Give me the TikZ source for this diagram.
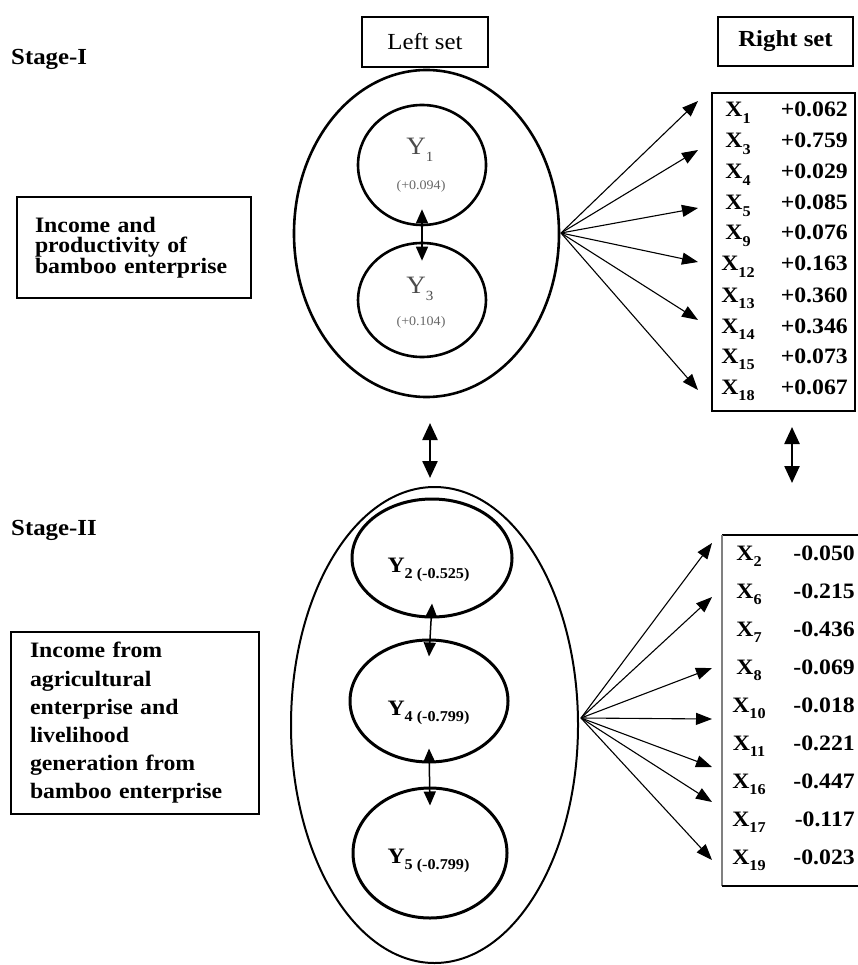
\documentclass[tikz,border=0pt]{standalone}
\usepackage{fontspec}
\setmainfont{Liberation Serif}[FakeStretch=1.08]
\usetikzlibrary{arrows.meta,shapes.geometric}
\definecolor{softgray}{gray}{0.3}
\definecolor{palegray}{gray}{0.4}
\newcommand{\lowsub}[2][15]{\raisebox{-0.28em}{\fontsize{#1}{#1}\selectfont #2}}
\newcommand{\headfont}{\fontsize{23}{24}\selectfont\bfseries}
\newcommand{\cellfont}{\fontsize{22}{24}\selectfont\bfseries}
\begin{document}
\begin{tikzpicture}[x=1pt,y=-1pt,
  ring/.style={draw,ellipse,inner sep=0pt},
  txt/.style={inner sep=0pt},
  titlebox/.style={draw,line width=2.6pt,inner sep=0pt,font=\fontsize{23}{24}\selectfont},
  descbox/.style={draw,line width=2pt,inner ysep=0pt,align=left},
  tablebox/.style={draw,line width=1.5pt,inner sep=0pt},
  fan/.style={line width=1.1pt,-{Triangle[length=16pt,width=12pt]}},
  dbl/.style={line width=1.5pt,{Triangle[length=14pt,width=12pt]}-{Triangle[length=14pt,width=12pt]}},
  bigdbl/.style={line width=2.4pt,{Triangle[length=17pt,width=15pt]}-{Triangle[length=17pt,width=15pt]}},
  xlab/.style={txt,anchor=base,font=\cellfont},
  xval/.style={txt,anchor=base east,font=\cellfont}
]
\useasboundingbox (0,0) rectangle (858,965);

% ---------- headings ----------
\node[txt,anchor=base west,font=\headfont] (stageI) at (11,65) {Stage-I};
\node[txt,anchor=base west,font=\headfont] (stageII) at (11,535) {Stage-II};
\node[titlebox,minimum width=126pt,minimum height=50pt] (leftset) at (425,42) {Left set};
\node[titlebox,minimum width=135pt,minimum height=49pt,font=\fontsize{23}{24}\selectfont\bfseries] (rightset) at (785.5,41.5) {Right set};

% ---------- descriptive boxes ----------
\node[descbox,minimum width=234pt,minimum height=101pt,inner xsep=18pt,text width=198pt,
      font=\fontsize{22}{20.5}\selectfont\bfseries] (descI) at (134,247.5)
  {Income and\\productivity of\\bamboo enterprise};
\node[descbox,minimum width=248pt,minimum height=182pt,inner xsep=19pt,text width=210pt,
      font=\fontsize{22}{28.2}\selectfont\bfseries] (descII) at (135,723)
  {Income from\\agricultural\\enterprise and\\livelihood\\generation from\\bamboo enterprise};

% ---------- stage I: left set ----------
\node[ring,line width=2.6pt,minimum width=265pt,minimum height=327pt] (setI) at (426.5,233.5) {};
\node[ring,line width=2.6pt,minimum width=128pt,minimum height=120pt] (y1) at (422,165) {};
\node[ring,line width=2.6pt,minimum width=128pt,minimum height=114pt] (y3) at (422,300) {};
\node[txt,anchor=base,text=softgray,font=\fontsize{25}{25}\selectfont] (y1name) at (420,155) {Y\lowsub[14]{1}};
\node[txt,anchor=base,text=palegray,font=\fontsize{13}{13}\selectfont] (y1val) at (421,190) {(+0.094)};
\node[txt,anchor=base,text=softgray,font=\fontsize{25}{25}\selectfont] (y3name) at (420,293) {Y\lowsub[14]{3}};
\node[txt,anchor=base,text=palegray,font=\fontsize{13}{13}\selectfont] (y3val) at (421,325) {(+0.104)};
\draw[dbl] ([yshift=17pt]y1.south) -- ([yshift=-19pt]y3.north);

% ---------- stage I: right set ----------
\node[tablebox,minimum width=143pt,minimum height=318pt] (tabI) at (783.5,252) {};
\foreach \name/\val/\yy [count=\i] in {1/+0.062/117, 3/+0.759/148, 4/+0.029/179, 5/+0.085/210,
    9/+0.076/240, 12/+0.163/271, 13/+0.360/302, 14/+0.346/333, 15/+0.073/363, 18/+0.067/394}{
  \node[xlab] (xa\i) at (738,\yy) {X\lowsub{\name}};
  \node[xval] (va\i) at (848,\yy) {\val};
}
\coordinate (fanI) at (561,233);
\foreach \ty [count=\i] in {101,150,208,262,320,390}{
  \coordinate (ta\i) at (698,\ty);
  \draw[fan] (fanI) -- (ta\i);
}

% ---------- links between the stages ----------
\coordinate (ml1) at (430,423);
\coordinate (ml2) at (430,478);
\coordinate (mr1) at (792,427);
\coordinate (mr2) at (792,483);
\draw[bigdbl] (ml1) -- (ml2);
\draw[bigdbl] (mr1) -- (mr2);

% ---------- stage II: left set ----------
\node[ring,line width=2pt,minimum width=287pt,minimum height=476pt] (setII) at (434.5,725) {};
\node[ring,line width=3pt,minimum width=160pt,minimum height=118pt] (y2) at (432,558) {};
\node[ring,line width=3pt,minimum width=158pt,minimum height=122pt] (y4) at (429,701) {};
\node[ring,line width=3pt,minimum width=154pt,minimum height=130pt] (y5) at (430,853) {};
\node[txt,anchor=base,font=\fontsize{22}{22}\selectfont\bfseries] (y2name) at (428.5,572) {Y\lowsub[15]{\bfseries 2 (-0.525)}};
\node[txt,anchor=base,font=\fontsize{22}{22}\selectfont\bfseries] (y4name) at (428.5,715) {Y\lowsub[15]{\bfseries 4 (-0.799)}};
\node[txt,anchor=base,font=\fontsize{22}{22}\selectfont\bfseries] (y5name) at (428.5,863) {Y\lowsub[15]{\bfseries 5 (-0.799)}};
\draw[dbl] ([yshift=15pt]y2.south) -- ([yshift=-18pt]y4.north);
\draw[dbl] ([yshift=15pt]y4.south) -- ([yshift=-19pt]y5.north);

% ---------- stage II: right set (open on the right) ----------
\coordinate (tbII) at (722,535);
\coordinate (tbIIr) at (858,535);
\coordinate (bbII) at (722,886);
\coordinate (bbIIr) at (858,886);
\draw[line width=1.5pt] (tbIIr) -- (tbII);
\draw[line width=1.5pt,draw=gray] (tbII) -- (bbII);
\draw[line width=1.5pt] (bbII) -- (bbIIr);
\foreach \name/\val/\yy [count=\i] in {2/-0.050/560, 6/-0.215/598, 7/-0.436/636, 8/-0.069/674,
    10/-0.018/712, 11/-0.221/750, 16/-0.447/788, 17/-0.117/826, 19/-0.023/864}{
  \node[xlab] (xb\i) at (749,\yy) {X\lowsub{\name}};
  \node[xval] (vb\i) at (855,\yy) {\val};
}
\coordinate (fanII) at (581,718);
\foreach \ty [count=\i] in {543,597,668,719,767,802,860}{
  \coordinate (tb\i) at (712,\ty);
  \draw[fan] (fanII) -- (tb\i);
}
\end{tikzpicture}
\end{document}
